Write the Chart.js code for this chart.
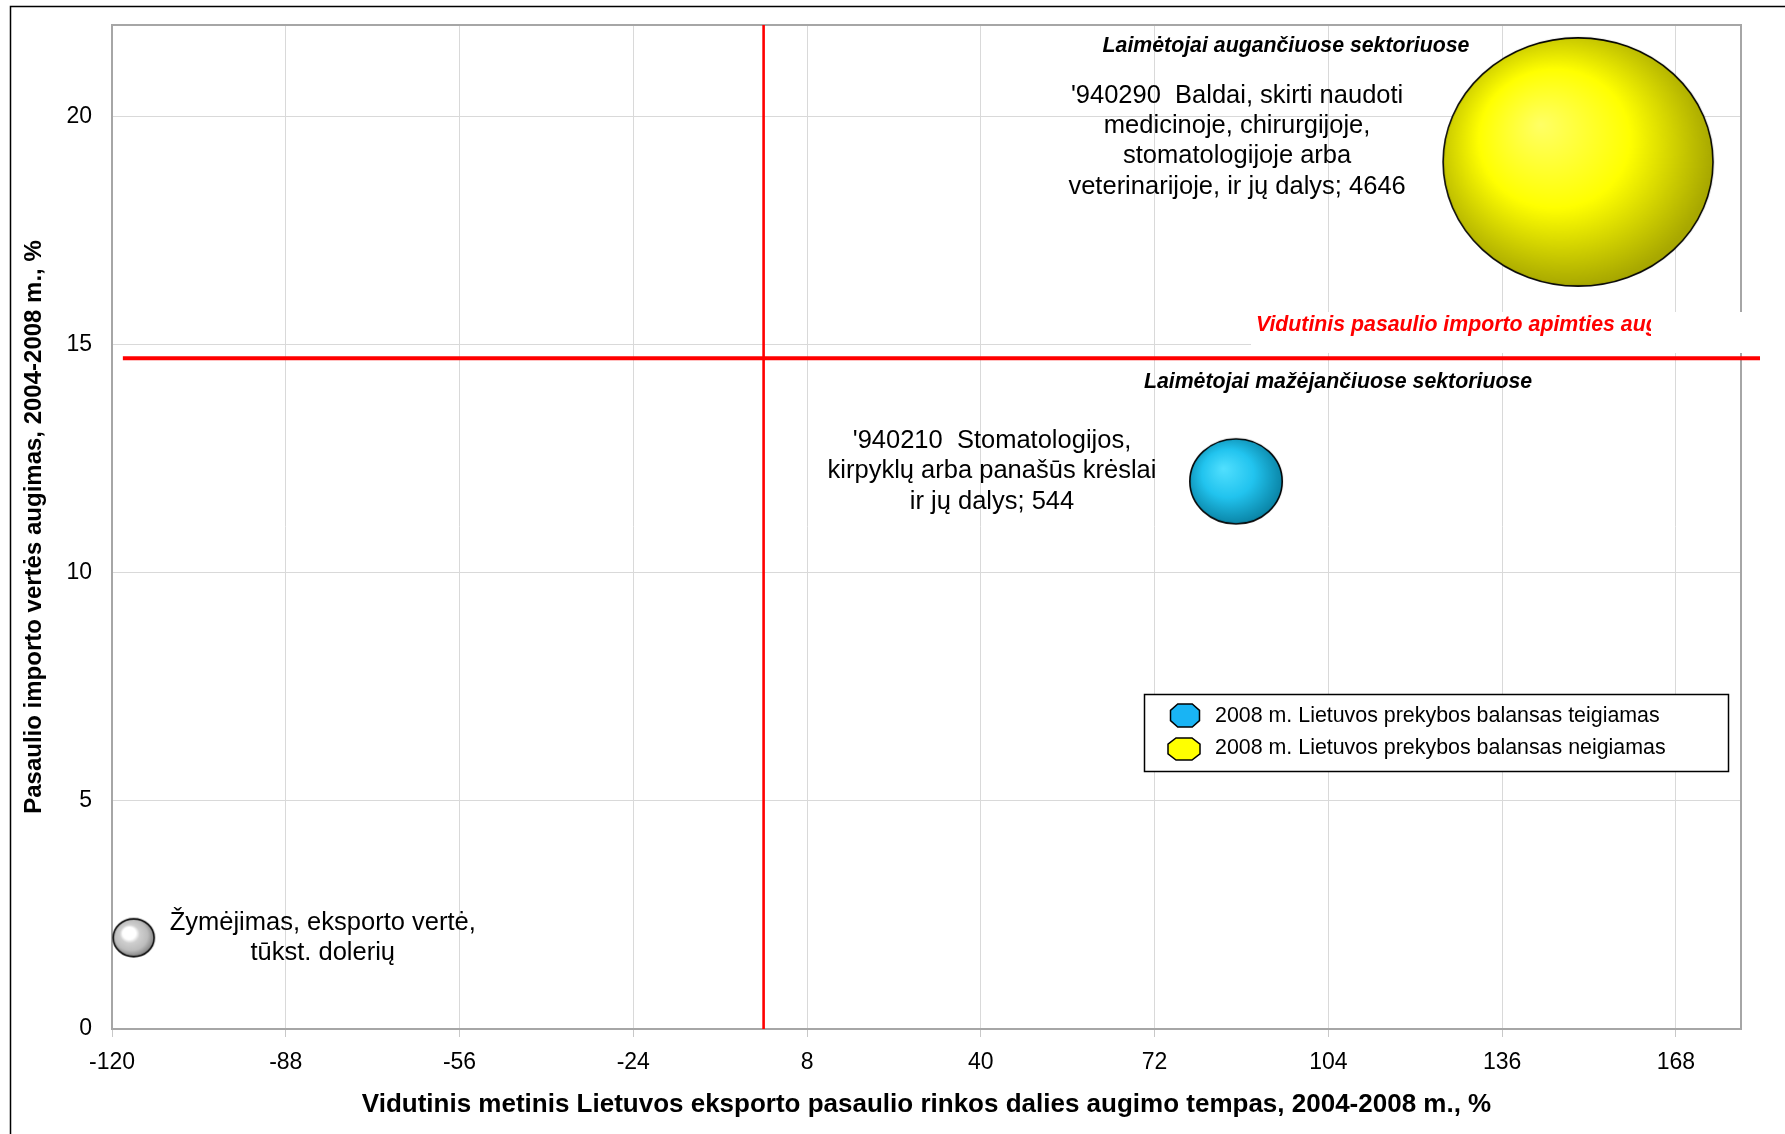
<!DOCTYPE html>
<html><head><meta charset="utf-8">
<script src="https://cdn.jsdelivr.net/npm/chart.js@4.4.1/dist/chart.umd.min.js"></script>
<style>html,body{margin:0;padding:0;background:#fff}#wrap{width:1785px;height:1134px}</style>
</head><body><div id="wrap"><canvas id="c" width="1785" height="1134"></canvas></div>
<script>
// axis ticks
var xTicks=[-120,-88,-56,-24,8,40,72,104,136,168];
var yTicks=[0,5,10,15,20];
var xMin=-120, xMax=180, yMin=0, yMax=22;

// bubbles: trade balance positive (blue), negative (yellow), key bubble (grey)
var posX=[87], posY=[12], posSize=[544];
var posText=[["'940210  Stomatologijos,","kirpyklų arba panašūs krėslai","ir jų dalys; 544"]];
var negX=[150], negY=[19], negSize=[4646];
var negText=[["'940290  Baldai, skirti naudoti","medicinoje, chirurgijoje,","stomatologijoje arba","veterinarijoje, ir jų dalys; 4646"]];
var keyX=[-116], keyY=[2], keySize=[107];
var keyText=[["Žymėjimas, eksporto vertė,","tūkst. dolerių"]];

// average lines
var avgImportGrowth=14.7, avgLineX=[-118,183.5];
var avgShareGrowth=0, avgLineY=[0,22];

var legendLabels=['2008 m. Lietuvos prekybos balansas teigiamas','2008 m. Lietuvos prekybos balansas neigiamas'];
var xTitle='Vidutinis metinis Lietuvos eksporto pasaulio rinkos dalies augimo tempas, 2004-2008 m., %';
var yTitle='Pasaulio importo vertės augimas, 2004-2008 m., %';
var avgLineText='Vidutinis pasaulio importo apimties augimas';
var growText='Laimėtojai augančiuose sektoriuose';
var shrinkText='Laimėtojai mažėjančiuose sektoriuose';

var FONT='"Liberation Sans", Arial, sans-serif';
var K=1.98, ASPECT=0.92;
var BLUE=['#52e0ff','#22c4ef','#0b86a8'];
var YELLOW=['#ffff66','#ffff00','#a8a800'];
var GREY=['#ffffff','#ffffff','#cfcfcf','#bdbdbd','#858585'];

function pts(xs,ys,ss){return xs.map(function(x,i){return {x:x,y:ys[i],r:Math.sqrt(ss[i])*K};});}

var ballCache={};
function makeBall(r,cols){
    var key=cols.join()+r;
    if(ballCache[key]) return ballCache[key];
    var rx=r, ry=r*ASPECT;
    var w=Math.round(rx*2+4), h=Math.round(ry*2+4);
    var cv=document.createElement('canvas'); cv.width=w; cv.height=h;
    var g=cv.getContext('2d');
    g.translate(w/2,h/2);
    g.save(); g.scale(1,ry/rx);
    var gr=g.createRadialGradient(-0.28*rx,-0.3*rx,0,-0.08*rx,-0.08*rx,rx*1.08);
    if(cols.length===3){gr.addColorStop(0,cols[0]);gr.addColorStop(0.52,cols[1]);gr.addColorStop(1,cols[2]);}
    else{gr.addColorStop(0,cols[0]);gr.addColorStop(0.3,cols[1]);gr.addColorStop(0.45,cols[2]);gr.addColorStop(0.75,cols[3]);gr.addColorStop(1,cols[4]);}
    g.beginPath(); g.arc(0,0,rx,0,Math.PI*2); g.fillStyle=gr; g.fill();
    g.restore();
    g.beginPath(); g.ellipse(0,0,rx,ry,0,0,Math.PI*2); g.lineWidth=1.6; g.strokeStyle='#000'; g.stroke();
    ballCache[key]=cv;
    return cv;
}

function octagon(ctx,cx,cy,w,h,fill){
    var c=w*0.25, d=h*0.28, l=cx-w/2, t=cy-h/2;
    ctx.beginPath();
    ctx.moveTo(l+c,t);ctx.lineTo(l+w-c,t);ctx.lineTo(l+w,t+d);ctx.lineTo(l+w,t+h-d);
    ctx.lineTo(l+w-c,t+h);ctx.lineTo(l+c,t+h);ctx.lineTo(l,t+h-d);ctx.lineTo(l,t+d);ctx.closePath();
    ctx.fillStyle=fill;ctx.fill();ctx.lineWidth=1.5;ctx.strokeStyle='#000';ctx.stroke();
}

function drawLines(ctx,lines,x,y,lh){
    lines.forEach(function(s,i){ctx.fillText(s,x,y+i*lh);});
}

var decor={
    id:'decor',
    beforeDraw:function(chart){
        var ctx=chart.ctx;
        ctx.save();
        ctx.fillStyle='#fff';ctx.fillRect(0,0,chart.width,chart.height);
        ctx.strokeStyle='#000';ctx.lineWidth=1.5;
        ctx.beginPath();ctx.moveTo(10.5,1134);ctx.lineTo(10.5,6.5);ctx.lineTo(1785,6.5);ctx.stroke();
        ctx.restore();
    },
    beforeDatasetsDraw:function(chart){
        var ctx=chart.ctx, a=chart.chartArea;
        ctx.save();
        // plot frame top and right
        ctx.strokeStyle='#a6a6a6';ctx.lineWidth=2;
        ctx.beginPath();ctx.moveTo(a.left,a.top);ctx.lineTo(a.right,a.top);ctx.lineTo(a.right,a.bottom);ctx.stroke();
        // headings
        ctx.fillStyle='#000';ctx.textAlign='center';ctx.textBaseline='middle';
        ctx.font='italic bold 21.3px '+FONT;
        ctx.fillText(growText,1286,46);
        ctx.fillText(shrinkText,1338,382);
        // white box with the clipped red caption
        ctx.fillStyle='#fff';ctx.fillRect(1251,312,534,41);
        ctx.beginPath();ctx.rect(1251,312,400,41);ctx.clip();
        ctx.fillStyle='#ff0000';ctx.textAlign='left';
        ctx.fillText(avgLineText,1256,325);
        ctx.restore();
    },
    afterDatasetsDraw:function(chart){
        var ctx=chart.ctx;
        ctx.save();
        ctx.fillStyle='#000';ctx.textAlign='center';ctx.textBaseline='middle';
        ctx.font='25.5px '+FONT;
        var p=chart.getDatasetMeta(0).data[0];
        drawLines(ctx,posText[0],p.x-244,p.y-40.6,30.6);
        p=chart.getDatasetMeta(1).data[0];
        drawLines(ctx,negText[0],p.x-341,p.y-66.4,30.4);
        p=chart.getDatasetMeta(2).data[0];
        drawLines(ctx,keyText[0],p.x+189,p.y-14.6,29.6);
        // legend
        ctx.fillStyle='#fff';ctx.fillRect(1144,694,584,77);
        ctx.strokeStyle='#000';ctx.lineWidth=1.5;ctx.strokeRect(1144.5,694.5,584,77);
        octagon(ctx,1185,715.5,29,23,'#19b4f4');
        octagon(ctx,1184,749,32,22,'#ffff00');
        ctx.fillStyle='#000';ctx.textAlign='left';ctx.font='21.4px '+FONT;
        ctx.fillText(chart.data.datasets[0].label,1215,716.5);
        ctx.fillText(chart.data.datasets[1].label,1215,748);
        ctx.restore();
    }
};

function setTicks(arr){return function(s){s.ticks=arr.map(function(v){return {value:v};});};}

new Chart(document.getElementById('c'),{
    type:'bubble',
    data:{datasets:[
        {label:legendLabels[0],data:pts(posX,posY,posSize),pointStyle:function(c){return makeBall(c.raw.r,BLUE);},clip:false},
        {label:legendLabels[1],data:pts(negX,negY,negSize),pointStyle:function(c){return makeBall(c.raw.r,YELLOW);},clip:false},
        {label:'key',data:pts(keyX,keyY,keySize),pointStyle:function(c){return makeBall(c.raw.r,GREY);},clip:false},
        {type:'line',label:'avgImport',data:avgLineX.map(function(x){return {x:x,y:avgImportGrowth};}),borderColor:'#ff0000',borderWidth:4,pointRadius:0,clip:false,order:-1},
        {type:'line',label:'avgShare',data:avgLineY.map(function(y){return {x:avgShareGrowth,y:y};}),borderColor:'#ff0000',borderWidth:2.6,pointRadius:0,clip:false,order:-1}
    ]},
    options:{
        responsive:false,animation:false,devicePixelRatio:1,events:[],
        layout:{autoPadding:false,padding:{top:25,right:44,bottom:0,left:0}},
        plugins:{legend:{display:false},tooltip:{enabled:false}},
        scales:{
            x:{type:'linear',min:xMin,max:xMax,afterBuildTicks:setTicks(xTicks),afterFit:function(s){s.height=105;s.paddingLeft=0;s.paddingRight=0;},
                grid:{color:'#d9d9d9',lineWidth:1,drawTicks:true,tickLength:8,tickColor:'#c8c8c8'},
                border:{display:true,color:'#a6a6a6',width:2},
                ticks:{color:'#000',padding:12,font:{family:FONT,size:23},maxRotation:0,autoSkip:false},
                title:{display:true,text:xTitle,color:'#000',font:{family:FONT,size:26,weight:'bold'},padding:{top:0,bottom:14}}},
            y:{type:'linear',min:yMin,max:yMax,afterBuildTicks:setTicks(yTicks),afterFit:function(s){s.width=112;s.paddingTop=0;s.paddingBottom=0;},
                grid:{color:'#d9d9d9',lineWidth:1,drawTicks:false},
                border:{display:true,color:'#a6a6a6',width:2},
                ticks:{color:'#000',padding:20,font:{family:FONT,size:23},autoSkip:false},
                title:{display:true,text:yTitle,color:'#000',font:{family:FONT,size:24,weight:'bold'},padding:{top:20,bottom:0}}}
        }
    },
    plugins:[decor]
});
</script></body></html>
